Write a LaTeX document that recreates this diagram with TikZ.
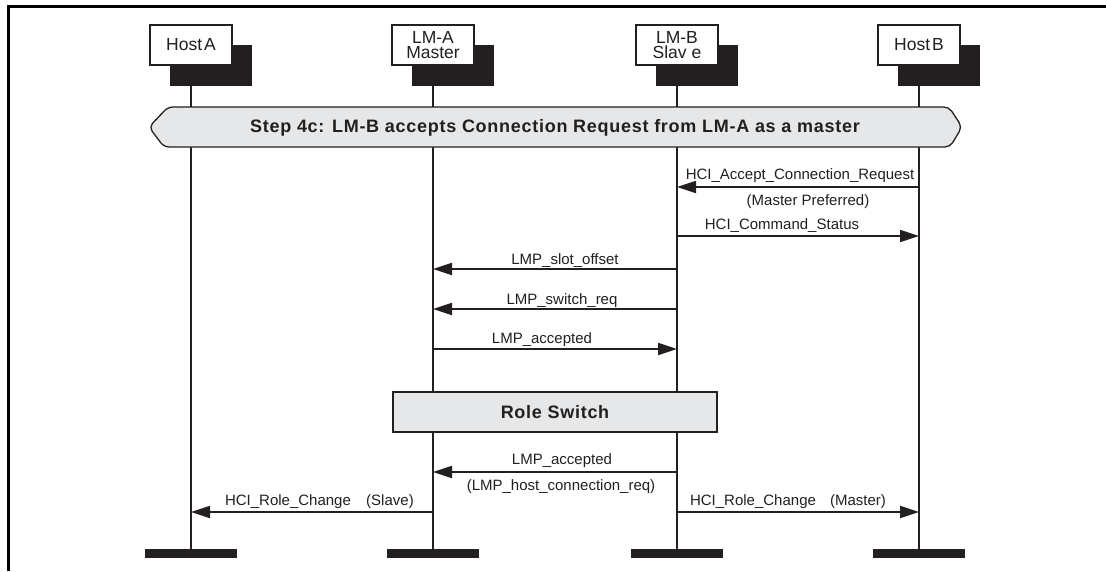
\documentclass[tikz,border=0pt]{standalone}
\usepackage{fontspec}
\setmainfont{Liberation Sans}
\newfontfamily\spacedbold[LetterSpace=4]{Liberation Sans Bold}
\usetikzlibrary{arrows.meta}
\definecolor{ink}{HTML}{231F20}
\definecolor{boxgray}{HTML}{E6E7E8}
\begin{document}
\begin{tikzpicture}[x=1pt,y=-1pt,
  lifeline/.style={draw=ink, line width=1.8pt},
  msg/.style={draw=ink, line width=1.8pt, -{Triangle[length=19pt,width=12pt]}},
  lbl/.style={font=\fontsize{15}{16}\selectfont, text=ink, inner sep=0pt, anchor=base},
  headbox/.style={draw=ink, line width=1.2pt, fill=white, minimum width=82pt, minimum height=40pt, inner sep=0pt, align=center, font=\fontsize{17.5}{15.5}\selectfont, text=ink},
  shadowbox/.style={fill=ink, minimum width=82pt, minimum height=41pt, inner sep=0pt},
  endbar/.style={fill=ink, minimum width=92pt, minimum height=9pt, inner sep=0pt},
  boldlbl/.style={font=\spacedbold\fontsize{18}{20}\selectfont, text=ink, inner sep=0pt},
  graybox/.style={draw=ink, line width=1.4pt, fill=boxgray},
]
\useasboundingbox (0,0) rectangle (1106,571);
% frame
\fill[black] (7,5) rectangle (1106,8);
\fill[black] (7,5) rectangle (10,571);

% heads
\foreach \n/\x/\t in {hA/191/{Host\kern2pt A}, hLA/433/{LM-A\\Master}, hLB/677/{LM-B\\Slav e}, hB/919/{Host\kern2pt B}}{
  \node[shadowbox] (s\n) at (\x+20,65.5) {};
  \node[headbox] (\n) at (\x,45) {\t};
}
% end bars
\node[endbar] (barA) at (191,553.5) {};
\node[endbar] (barLA) at (433,553.5) {};
\node[endbar] (barLB) at (677,553.5) {};
\node[endbar] (barB) at (919,553.5) {};
% lifelines
\draw[lifeline] (hA |- shA.south) -- (barA.north);
\draw[lifeline] (hLA |- shLA.south) -- (barLA.north);
\draw[lifeline] (hLB |- shLB.south) -- (barLB.north);
\draw[lifeline] (hB |- shB.south) -- (barB.north);

% step box
\draw[graybox, line width=1.3pt, rounded corners=5pt] (168,107) -- (949,107) -- (962,127) -- (950,147)
  -- (164,147) -- (149,127) -- cycle;
\node[boldlbl] (step) at (555,127.5) {Step 4c: LM-B accepts Connection Request from LM-A as a master};

% messages
\draw[msg] (barB |- 0,187) -- (barLB |- 0,187);
\node[lbl] (m1) at (800,179) {HCI\_Accept\_Connection\_Request};
\node[lbl] (m1b) at (808,205) {(Master Preferred)};

\draw[msg] (barLB |- 0,236) -- (barB |- 0,236);
\node[lbl] (m2) at (782,229) {HCI\_Command\_Status};

\draw[msg] (barLB |- 0,269) -- (barLA |- 0,269);
\node[lbl] (m3) at (565,264) {LMP\_slot\_offset};

\draw[msg] (barLB |- 0,309) -- (barLA |- 0,309);
\node[lbl] (m4) at (562,304) {LMP\_switch\_req};

\draw[msg] (barLA |- 0,349) -- (barLB |- 0,349);
\node[lbl] (m5) at (542,343) {LMP\_accepted};

% role switch
\node[graybox, minimum width=324pt, minimum height=40pt, inner sep=0pt] (rs) at (555,412) {};
\node[boldlbl] (rst) at (rs.center) {Role Switch};

\draw[msg] (barLB |- 0,472) -- (barLA |- 0,472);
\node[lbl] (m6) at (562,464) {LMP\_accepted};
\node[lbl] (m6b) at (561,490) {(LMP\_host\_connection\_req)};

\draw[msg] (barLA |- 0,512) -- (barA |- 0,512);
\node[lbl] (m7) at (288,505) {HCI\_Role\_Change};
\node[lbl] (m7b) at (390,505) {(Slave)};

\draw[msg] (barLB |- 0,512) -- (barB |- 0,512);
\node[lbl] (m8) at (753,505) {HCI\_Role\_Change};
\node[lbl] (m8b) at (858,505) {(Master)};
\end{tikzpicture}
\end{document}
